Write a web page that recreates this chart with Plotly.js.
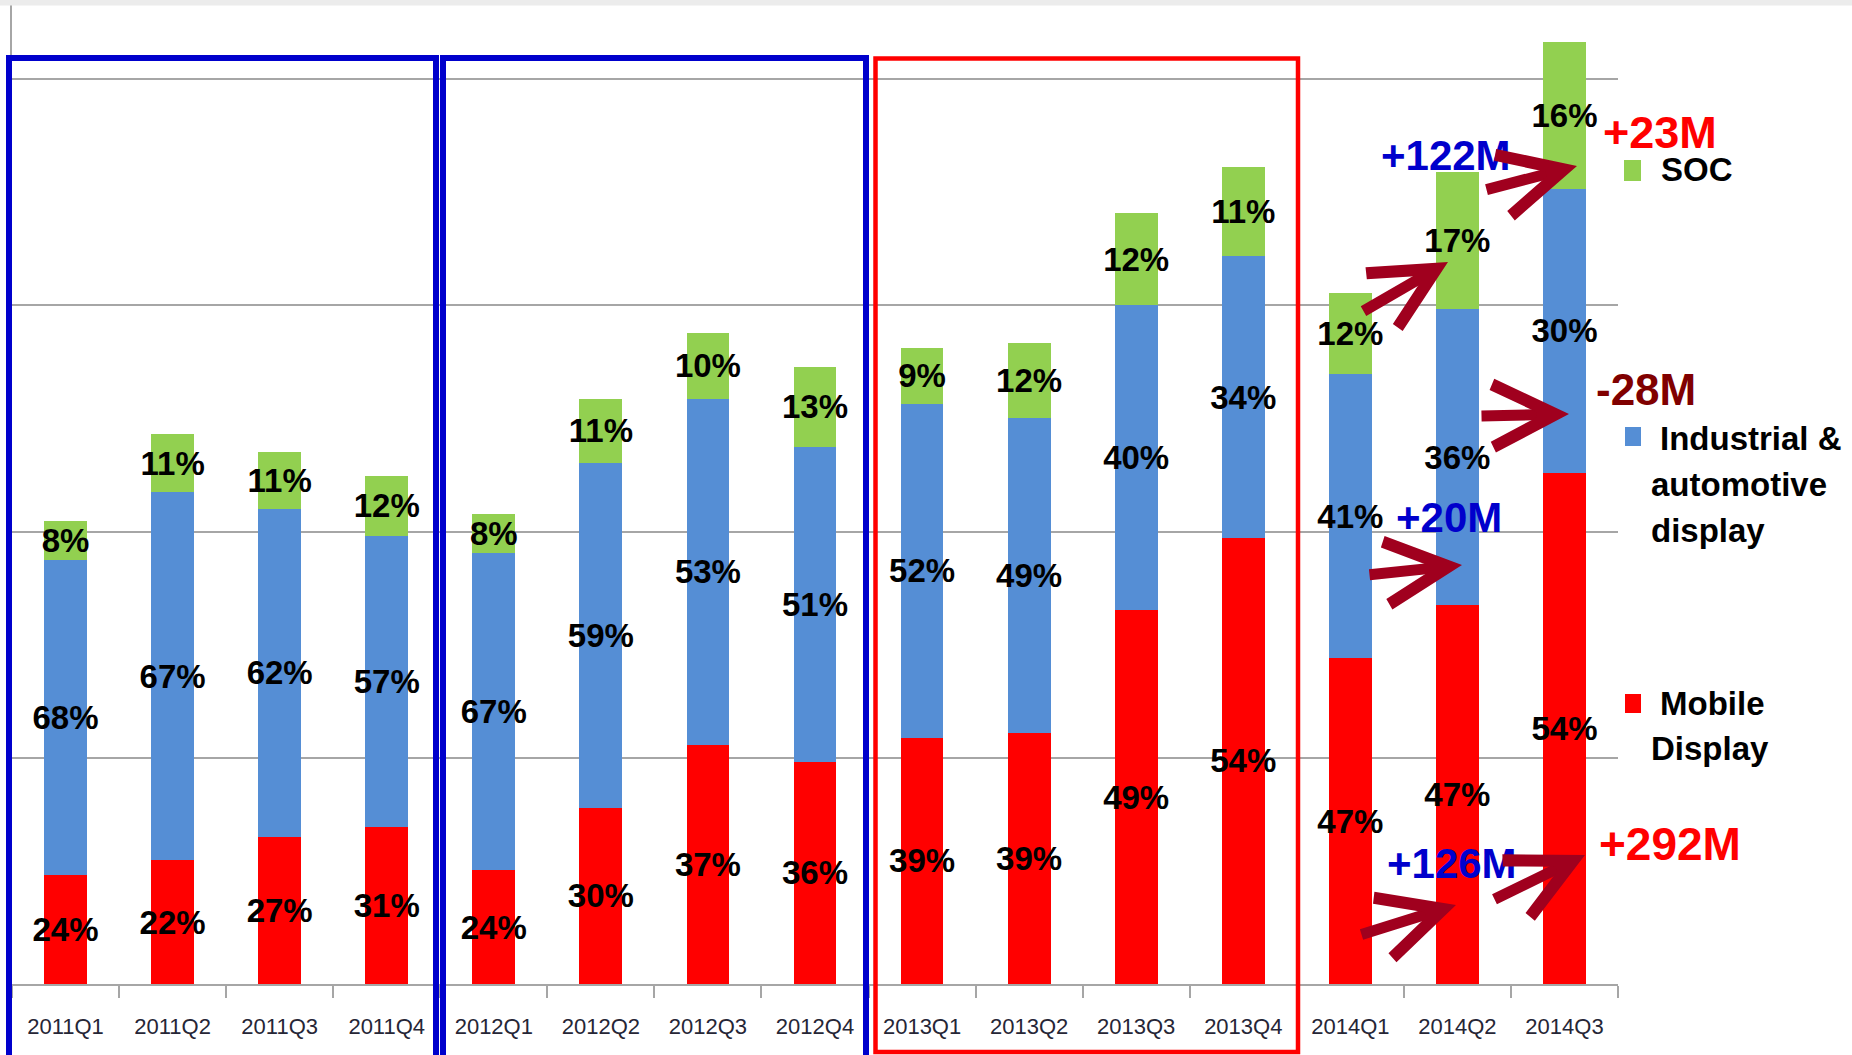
<!DOCTYPE html>
<html>
<head>
<meta charset="utf-8">
<script src="https://cdn.plot.ly/plotly-3.0.1.min.js"></script>
<style>
  html, body { margin: 0; padding: 0; background: #ffffff; }
  #chart { width: 1852px; height: 1055px; }
</style>
</head>
<body>
<div id="chart"></div>
<script>
// ---------------- data (millions of units) ----------------
const quarters = ['2011Q1','2011Q2','2011Q3','2011Q4','2012Q1','2012Q2','2012Q3','2012Q4',
                  '2013Q1','2013Q2','2013Q3','2013Q4','2014Q1','2014Q2','2014Q3'];
const mobileValues     = [241, 273, 326, 347, 251, 390, 528, 491, 544, 554, 826, 986, 720, 837, 1130];
const industrialValues = [696, 814, 724, 644, 702, 762, 766, 697, 739, 697, 675, 623, 628, 655, 627];
const socValues        = [ 86, 128, 127, 133,  86, 142, 145, 175, 123, 165, 203, 196, 180, 302, 325];
const mobilePct     = [24, 22, 27, 31, 24, 30, 37, 36, 39, 39, 49, 54, 47, 47, 54];
const industrialPct = [68, 67, 62, 57, 67, 59, 53, 51, 52, 49, 40, 34, 41, 36, 30];
const socPct        = [ 8, 11, 11, 12,  8, 11, 10, 13,  9, 12, 12, 11, 12, 17, 16];
const seriesNames = ['Mobile Display', 'Industrial & automotive display', 'SOC'];
const legendLines = [['Mobile', 'Display'], ['Industrial &amp;', 'automotive', 'display'], ['SOC']];
const changeLabels = ['+126M', '+20M', '+122M', '+292M', '-28M', '+23M'];

// ---------------- styling / geometry ----------------
const W = 1852, H = 1055;
const L = 12, R = 1618, T = 5, B = 984;
const px = x => (x - L) / (R - L);
const py = y => (B - y) / (B - T);
const FONT = '"Liberation Sans", Arial, sans-serif';
const C_RED = '#ff0000', C_BLUE = '#558ed5', C_GREEN = '#92d050';
const ARROW = '#a0001e';

function barTrace(name, vals, pcts, color) {
  const f = {family: FONT, size: 33, color: '#000000', weight: 'bold'};
  return {
    type: 'bar', name: name, x: quarters, y: vals,
    text: pcts.map(p => p + '%'),
    textposition: 'inside', insidetextanchor: 'middle',
    constraintext: 'none', textangle: 0, cliponaxis: false,
    textfont: f, insidetextfont: f,
    marker: {color: color, line: {width: 0}},
    hoverinfo: 'skip'
  };
}

const data = [
  barTrace(seriesNames[0], mobileValues, mobilePct, C_RED),
  barTrace(seriesNames[1], industrialValues, industrialPct, C_BLUE),
  barTrace(seriesNames[2], socValues, socPct, C_GREEN)
];

const shapes = [];
// top light band
shapes.push({type: 'rect', xref: 'paper', yref: 'paper', x0: px(0), x1: px(W), y0: py(5.5), y1: py(-2),
             fillcolor: '#ececec', line: {width: 0}, layer: 'above'});
// group boxes
function box(x0, x1, y0, y1, color, w) {
  shapes.push({type: 'rect', xref: 'paper', yref: 'paper', x0: px(x0), x1: px(x1), y0: py(y1), y1: py(y0),
               line: {color: color, width: w}, fillcolor: 'rgba(0,0,0,0)', layer: 'above'});
}
box(9, 436, 58, 1075, '#0000cc', 6);
box(443, 866, 58, 1075, '#0000cc', 6);
box(875.5, 1298, 58.5, 1052, '#ff0000', 4.5);
// legend squares
function sq(x0, x1, y0, y1, color) {
  shapes.push({type: 'rect', xref: 'paper', yref: 'paper', x0: px(x0), x1: px(x1), y0: py(y1), y1: py(y0),
               fillcolor: color, line: {width: 0}, layer: 'above'});
}
sq(1624, 1641, 160, 181, C_GREEN);
sq(1625, 1641, 427, 446, C_BLUE);
sq(1625, 1641, 694, 713, C_RED);

const annotations = [];
// legend text, one annotation per line
function legendText(text, x, yc) {
  annotations.push({xref: 'paper', yref: 'paper', x: px(x), y: py(yc), xanchor: 'left', yanchor: 'middle',
    align: 'left', showarrow: false, text: text,
    font: {family: FONT, size: 33, color: '#000000', weight: 'bold'}});
}
legendText(legendLines[2][0], 1659, 170);
legendText(legendLines[1][0], 1658, 438);
legendText(legendLines[1][1], 1649, 484);
legendText(legendLines[1][2], 1649, 530);
legendText(legendLines[0][0], 1658, 703);
legendText(legendLines[0][1], 1649, 748);

// change labels
function changeText(text, xc, yc, color, size) {
  annotations.push({xref: 'paper', yref: 'paper', x: px(xc), y: py(yc), xanchor: 'center', yanchor: 'middle',
    showarrow: false, text: text,
    font: {family: FONT, size: size, color: color, weight: 'bold'}});
}
changeText(changeLabels[0], 1452, 863, '#0000cc', 42);
changeText(changeLabels[1], 1449, 517, '#0000cc', 42);
changeText(changeLabels[2], 1446, 155, '#0000cc', 42);
changeText(changeLabels[3], 1670, 844, '#ff0000', 46);
changeText(changeLabels[4], 1646, 389, '#800000', 44);
changeText(changeLabels[5], 1660, 132, '#ff0000', 45);

// arrows (tail -> tip)
function arrow(tx, ty, hx, hy) {
  annotations.push({xref: 'paper', yref: 'paper', x: px(hx), y: py(hy), ax: tx - hx, ay: ty - hy,
    text: '', showarrow: true, arrowhead: 5, arrowsize: 1.12, arrowwidth: 11, arrowcolor: ARROW, standoff: 0});
}
arrow(1362, 312, 1448, 262);
arrow(1485, 190, 1577, 166);
arrow(1480, 416, 1569, 414);
arrow(1368, 575, 1462, 565);
arrow(1360, 935, 1456, 905);
arrow(1493, 900, 1585, 855);

const layout = {
  width: W, height: H,
  margin: {l: L, r: W - R, t: T, b: H - B, pad: 0},
  paper_bgcolor: '#ffffff', plot_bgcolor: '#ffffff',
  showlegend: false,
  barmode: 'stack', bargap: 0.6,
  xaxis: {
    type: 'category', range: [-0.5, 14.5],
    showline: true, linecolor: '#a6a6a6', linewidth: 2,
    ticks: 'outside', tickson: 'boundaries', ticklen: 12, tickwidth: 2, tickcolor: '#a6a6a6',
    tickfont: {family: FONT, size: 22, color: '#262636'},
    ticklabelstandoff: 22,
    showgrid: false, zeroline: false, fixedrange: true
  },
  yaxis: {
    range: [0, 2164], tick0: 0, dtick: 500,
    showgrid: true, gridcolor: '#a6a6a6', gridwidth: 2,
    showline: true, linecolor: '#a6a6a6', linewidth: 2,
    showticklabels: false, ticks: '', zeroline: false, fixedrange: true
  },
  shapes: shapes,
  annotations: annotations
};

Plotly.newPlot('chart', data, layout, {staticPlot: true, displayModeBar: false});
</script>
</body>
</html>
